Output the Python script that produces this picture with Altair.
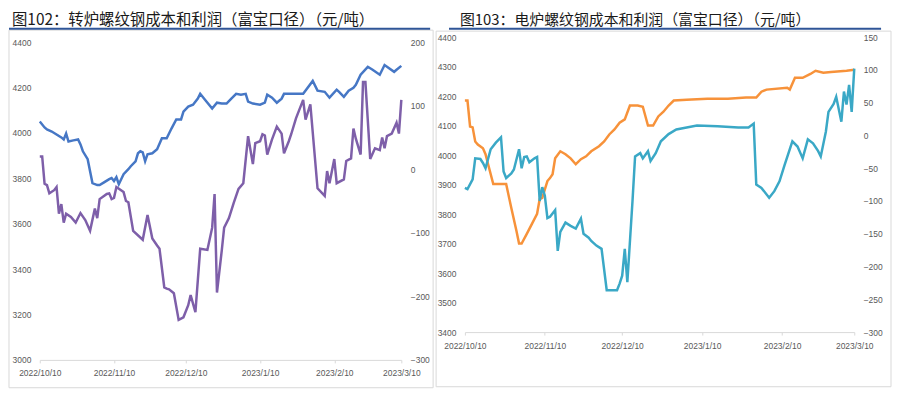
import altair as alt
import pandas as pd

# ---------------- data ----------------
title102 = "图102：转炉螺纹钢成本和利润（富宝口径）（元/吨）"
title103 = "图103：电炉螺纹钢成本和利润（富宝口径）（元/吨）"

cost102_dates = [
    "2022-10-10", "2022-10-12", "2022-10-13", "2022-10-15", "2022-10-17", "2022-10-19", "2022-10-20", "2022-10-21", "2022-10-22", "2022-10-24",
    "2022-10-26", "2022-10-27", "2022-10-28", "2022-10-30", "2022-10-31", "2022-11-01", "2022-11-03", "2022-11-04", "2022-11-06", "2022-11-08",
    "2022-11-09", "2022-11-10", "2022-11-11", "2022-11-12", "2022-11-13", "2022-11-14", "2022-11-16", "2022-11-17", "2022-11-19", "2022-11-20",
    "2022-11-21", "2022-11-22", "2022-11-23", "2022-11-24", "2022-11-26", "2022-11-28", "2022-11-30", "2022-12-02", "2022-12-04", "2022-12-06",
    "2022-12-08", "2022-12-09", "2022-12-11", "2022-12-13", "2022-12-15", "2022-12-16", "2022-12-18", "2022-12-21", "2022-12-23", "2022-12-25",
    "2022-12-27", "2022-12-29", "2022-12-31", "2023-01-02", "2023-01-04", "2023-01-05", "2023-01-07", "2023-01-10", "2023-01-12", "2023-01-13",
    "2023-01-15", "2023-01-17", "2023-01-19", "2023-01-20", "2023-01-28", "2023-02-01", "2023-02-03", "2023-02-06", "2023-02-08", "2023-02-11",
    "2023-02-12", "2023-02-14", "2023-02-16", "2023-02-18", "2023-02-19", "2023-02-21", "2023-02-24", "2023-02-26", "2023-03-01", "2023-03-03",
    "2023-03-07", "2023-03-08", "2023-03-10"]
cost102 = [
    4050, 4024, 4015, 4006, 3993, 3980, 3971, 3997, 3962, 3967,
    3971, 3949, 3919, 3884, 3831, 3779, 3770, 3770, 3783, 3796,
    3801, 3788, 3805, 3774, 3796, 3818, 3840, 3853, 3875, 3910,
    3919, 3914, 3875, 3906, 3910, 3928, 3976, 3976, 4019, 4059,
    4059, 4094, 4116, 4124, 4151, 4172, 4146, 4107, 4133, 4129,
    4129, 4151, 4172, 4168, 4172, 4138, 4129, 4124, 4133, 4168,
    4155, 4133, 4151, 4172, 4172, 4229, 4186, 4181, 4155, 4190,
    4181, 4159, 4186, 4199, 4212, 4256, 4291, 4278, 4256, 4299,
    4269, 4278, 4295]

profit102_dates = [
    "2022-10-10", "2022-10-11", "2022-10-12", "2022-10-13", "2022-10-14", "2022-10-16", "2022-10-17", "2022-10-18", "2022-10-19", "2022-10-20",
    "2022-10-21", "2022-10-23", "2022-10-25", "2022-10-27", "2022-10-29", "2022-10-31", "2022-11-02", "2022-11-03", "2022-11-04", "2022-11-07",
    "2022-11-08", "2022-11-09", "2022-11-10", "2022-11-11", "2022-11-14", "2022-11-15", "2022-11-16", "2022-11-18", "2022-11-22", "2022-11-24",
    "2022-11-26", "2022-11-28", "2022-11-29", "2022-12-01", "2022-12-02", "2022-12-03", "2022-12-05", "2022-12-07", "2022-12-09", "2022-12-11",
    "2022-12-12", "2022-12-14", "2022-12-16", "2022-12-19", "2022-12-21", "2022-12-22", "2022-12-23", "2022-12-25", "2022-12-26", "2022-12-28",
    "2022-12-30", "2023-01-01", "2023-01-03", "2023-01-05", "2023-01-07", "2023-01-08", "2023-01-10", "2023-01-11", "2023-01-12", "2023-01-13",
    "2023-01-15", "2023-01-17", "2023-01-19", "2023-01-20", "2023-01-22", "2023-01-23", "2023-01-25", "2023-01-28", "2023-01-29", "2023-01-31",
    "2023-02-03", "2023-02-06", "2023-02-07", "2023-02-08", "2023-02-10", "2023-02-11", "2023-02-14", "2023-02-15", "2023-02-17", "2023-02-18",
    "2023-02-19", "2023-02-21", "2023-02-22", "2023-02-23", "2023-02-25", "2023-02-27", "2023-03-01", "2023-03-02", "2023-03-03", "2023-03-04",
    "2023-03-06", "2023-03-08", "2023-03-09", "2023-03-10"]
profit102 = [
    20, 20, -23, -25, -38, -33, -28, -70, -55, -84,
    -70, -75, -84, -69, -80, -97, -62, -77, -47, -39,
    -38, -47, -45, -28, -36, -50, -52, -97, -111, -72,
    -109, -120, -125, -186, -188, -189, -195, -237, -233, -214,
    -198, -225, -125, -127, -92, -39, -194, -128, -92, -77,
    -53, -31, -22, 52, 8, 41, 44, 55, 53, 23,
    47, 67, 56, 25, 44, 55, 80, 109, 78, 102,
    -30, -42, -3, -22, 16, -22, -16, 13, 17, 64,
    48, 23, 137, 137, 16, 33, 30, 50, 33, 52,
    56, 73, 56, 109]

cost103_dates = [
    "2022-10-10", "2022-10-11", "2022-10-12", "2022-10-13", "2022-10-14", "2022-10-15", "2022-10-17", "2022-10-18", "2022-10-19", "2022-10-21",
    "2022-10-26", "2022-10-28", "2022-10-30", "2022-10-31", "2022-11-01", "2022-11-03", "2022-11-05", "2022-11-07", "2022-11-08", "2022-11-09",
    "2022-11-11", "2022-11-12", "2022-11-13", "2022-11-14", "2022-11-16", "2022-11-18", "2022-11-20", "2022-11-22", "2022-11-24", "2022-11-26",
    "2022-11-28", "2022-12-01", "2022-12-03", "2022-12-05", "2022-12-07", "2022-12-09", "2022-12-11", "2022-12-13", "2022-12-16", "2022-12-18",
    "2022-12-20", "2022-12-22", "2022-12-24", "2022-12-26", "2022-12-28", "2022-12-30", "2023-01-04", "2023-01-12", "2023-01-20", "2023-01-27",
    "2023-01-31", "2023-02-02", "2023-02-04", "2023-02-12", "2023-02-13", "2023-02-15", "2023-02-18", "2023-02-21", "2023-02-23", "2023-02-26",
    "2023-03-01", "2023-03-07", "2023-03-10"]
cost103 = [
    4185, 4185, 4097, 4094, 4046, 4036, 4023, 4003, 3969, 3902,
    3902, 3821, 3743, 3700, 3700, 3733, 3767, 3801, 3851, 3855,
    3912, 3922, 3935, 3989, 4013, 4003, 3989, 3969, 3986, 3996,
    4013, 4030, 4046, 4070, 4087, 4110, 4121, 4168, 4168, 4164,
    4100, 4100, 4131, 4147, 4168, 4185, 4188, 4191, 4191, 4195,
    4195, 4215, 4222, 4228, 4222, 4262, 4262, 4275, 4286, 4279,
    4282, 4286, 4289]

profit103_dates = [
    "2022-10-10", "2022-10-11", "2022-10-13", "2022-10-14", "2022-10-16", "2022-10-17", "2022-10-18", "2022-10-20", "2022-10-22", "2022-10-24",
    "2022-10-25", "2022-10-26", "2022-10-28", "2022-10-29", "2022-10-31", "2022-11-01", "2022-11-02", "2022-11-03", "2022-11-04", "2022-11-06",
    "2022-11-07", "2022-11-08", "2022-11-09", "2022-11-10", "2022-11-11", "2022-11-12", "2022-11-14", "2022-11-15", "2022-11-16", "2022-11-18",
    "2022-11-20", "2022-11-22", "2022-11-24", "2022-11-25", "2022-11-27", "2022-11-28", "2022-11-30", "2022-12-02", "2022-12-04", "2022-12-08",
    "2022-12-09", "2022-12-10", "2022-12-11", "2022-12-12", "2022-12-14", "2022-12-15", "2022-12-17", "2022-12-18", "2022-12-20", "2022-12-21",
    "2022-12-23", "2022-12-25", "2022-12-28", "2022-12-31", "2023-01-04", "2023-01-08", "2023-01-16", "2023-01-24", "2023-01-28", "2023-01-30",
    "2023-01-31", "2023-02-02", "2023-02-05", "2023-02-07", "2023-02-09", "2023-02-11", "2023-02-14", "2023-02-16", "2023-02-18", "2023-02-20",
    "2023-02-22", "2023-02-24", "2023-02-25", "2023-02-27", "2023-02-28", "2023-03-02", "2023-03-03", "2023-03-05", "2023-03-06", "2023-03-07",
    "2023-03-08", "2023-03-09", "2023-03-10"]
profit103 = [
    -80, -82, -67, -35, -36, -42, -50, -21, -11, -3,
    -55, -65, -58, -52, -21, -50, -33, -32, -41, -35,
    -33, -100, -79, -92, -126, -124, -114, -176, -147, -133,
    -138, -142, -127, -150, -156, -161, -168, -173, -236, -236,
    -226, -214, -173, -224, -100, -32, -27, -35, -24, -39,
    -27, -9, 2, 9, 12, 15, 14, 12, 12, 18,
    -75, -80, -95, -85, -70, -45, -9, -17, -35, -6,
    -12, -24, -32, 6, 36, 48, 59, 21, 67, 47,
    77, 36, 102]

x_tick_dates = [(2022, 10, 10), (2022, 11, 10), (2022, 12, 10), (2023, 1, 10), (2023, 2, 10), (2023, 3, 10)]
left_ticks_102 = [3000, 3200, 3400, 3600, 3800, 4000, 4200, 4400]
right_ticks_102 = [-300, -200, -100, 0, 100, 200]
left_ticks_103 = [3400, 3500, 3600, 3700, 3800, 3900, 4000, 4100, 4200, 4300, 4400]
right_ticks_103 = [-300, -250, -200, -150, -100, -50, 0, 50, 100, 150]

assert len(cost102_dates) == len(cost102)
assert len(profit102_dates) == len(profit102)
assert len(cost103_dates) == len(cost103)
assert len(profit103_dates) == len(profit103)

# ---------------- styling ----------------
FONT = "Liberation Sans"
LABEL = "#595959"
LINEC = "#d9d9d9"
ULINE = "#2f5597"


def dt(t):
    return alt.DateTime(year=t[0], month=t[1], date=t[2])


tick_vals = [dt(t) for t in x_tick_dates]
x_domain = [dt(x_tick_dates[0]), dt(x_tick_dates[-1])]


def xaxis(pad):
    return alt.Axis(values=tick_vals, format="%Y/%-m/%-d", formatType="time", title=None,
                    grid=False, domainColor=LINEC, tickColor=LINEC, tickSize=3,
                    labelPadding=pad, labelFont=FONT, labelFontSize=8.5, labelColor=LABEL,
                    labelOverlap=False, labelBound=False, labelFlush=False)


def yaxis(orient, vals):
    return alt.Axis(orient=orient, values=vals, format="d", title=None, grid=False, domain=False,
                    ticks=False, labelPadding=9, labelFont=FONT, labelFontSize=8.5,
                    labelColor=LABEL, labelOverlap=False)


def panel(cd, cv, pd_, pv, ydl, ytl, ydr, ytr, c1, c2, w, h, ytop, deco, title, tsize, xpad):
    df1 = pd.DataFrame({"date": pd.to_datetime(cd), "v": cv})
    df2 = pd.DataFrame({"date": pd.to_datetime(pd_), "v": pv})
    x = alt.X("date:T", scale=alt.Scale(domain=x_domain, nice=False), axis=xaxis(xpad))
    l1 = alt.Chart(df1).mark_line(color=c1, strokeWidth=2.5).encode(
        x=x, y=alt.Y("v:Q", scale=alt.Scale(domain=ydl, range=[h, ytop], nice=False, zero=False),
                     axis=yaxis("left", ytl)))
    l2 = alt.Chart(df2).mark_line(color=c2, strokeWidth=2.5).encode(
        x=x, y=alt.Y("v:Q", scale=alt.Scale(domain=ydr, range=[h, ytop], nice=False, zero=False),
                     axis=yaxis("right", ytr)))
    one = pd.DataFrame({"k": [0]})
    bx0, bx1, by0, by1, ux0, ux1, uy, tx, ty, topy = deco
    top = alt.Chart(one).mark_rule(color="white", strokeWidth=1).encode(
        x=alt.value(0), x2=alt.value(20), y=alt.value(topy))
    box = alt.Chart(one).mark_rect(fill="transparent", stroke=LINEC, strokeWidth=1).encode(
        x=alt.value(bx0), x2=alt.value(bx1), y=alt.value(by0), y2=alt.value(by1))
    ul = alt.Chart(one).mark_rule(color=ULINE, strokeWidth=2).encode(
        x=alt.value(ux0), x2=alt.value(ux1), y=alt.value(uy))
    tt = alt.Chart(one).mark_text(text=title, align="left", baseline="middle",
                                  font="Noto Sans CJK SC", fontSize=tsize, color="#1a1a1a").encode(
        x=alt.value(tx), y=alt.value(ty))
    return alt.layer(top, box, ul, tt, l1, l2).resolve_scale(y="independent").properties(width=w, height=h)


left = panel(cost102_dates, cost102, profit102_dates, profit102,
             [3000, 4400], left_ticks_102, [-300, 200], right_ticks_102,
             "#4677c5", "#7e5fa9", 364, 320, 0,
             (-31, 396, -12, 348, -31, 393, -13.5, -28, -22, -32), title102, 15.5, 6)

right = panel(cost103_dates, cost103, profit103_dates, profit103,
              [3400, 4400], left_ticks_103, [-300, 150], right_ticks_103,
              "#f7923a", "#3aa8c6", 392, 292, -5,
              (-29, 429, -11, 347, -16, 419, -13.5, -5, -22, -32), title103, 15, 7)

chart = alt.hconcat(left, right, spacing=1).properties(padding=0, background="white").configure_view(strokeWidth=0)

chart.save("out.html", embed_options={"renderer": "svg", "actions": False})
